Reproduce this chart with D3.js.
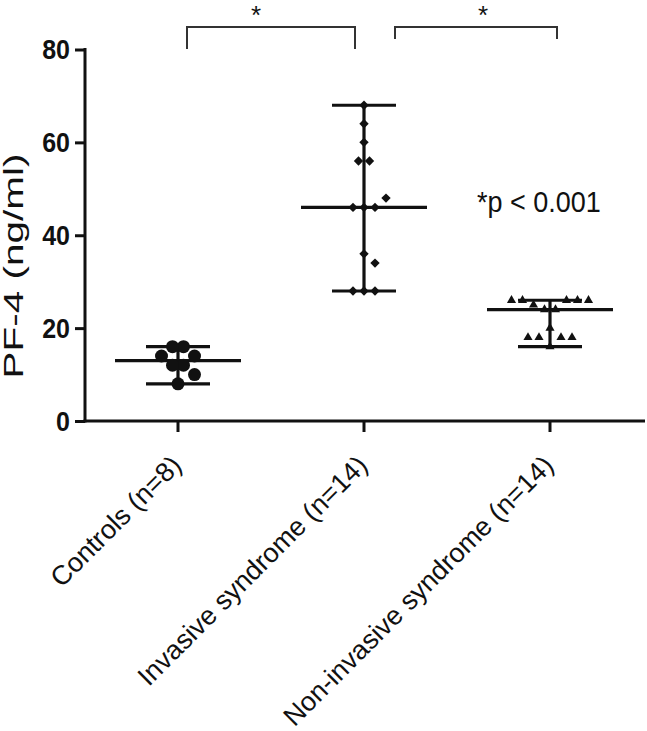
<!DOCTYPE html>
<html>
<head>
<meta charset="utf-8">
<script src="https://cdn.jsdelivr.net/npm/d3@7"></script>
<style>
  html, body { margin: 0; padding: 0; background: #fff; }
  svg { display: block; }
  text { font-family: "Liberation Sans", Arial, Helvetica, sans-serif; fill: #111; }
</style>
</head>
<body>
<svg id="chart" width="647" height="731"></svg>
<script>
// ---------------- data ----------------
const categories = ["Controls (n=8)", "Invasive syndrome (n=14)", "Non-invasive syndrome (n=14)"];
const controls = [16, 16, 14, 14, 12, 12, 10, 8];
const invasive = [68, 64, 60, 56, 56, 48, 46, 46, 46, 36, 34, 28, 28, 28];
const nonInvasive = [26, 26, 26, 26, 26, 25, 24, 24, 20, 18, 18, 18, 18, 16];
const yTicks = [0, 20, 40, 60, 80];
const yTitle = "PF-4 (ng/ml)";
const comparisons = [[0, 1], [1, 2]];
const comparisonLabels = ["*", "*"];
const noteText = "*p < 0.001";

const series = [controls, invasive, nonInvasive];
const shapes = ["circle", "diamond", "triangle"];

// ---------------- layout ----------------
const svg = d3.select("#chart");
const axisY0 = 421, axisY80 = 49.5;
const plotLeft = 85, plotRight = 643, axisEnd = 645;
const ink = "#111";

const x = d3.scaleBand().domain(categories).range([plotLeft, plotRight]).paddingInner(0).paddingOuter(0);
const cx = c => x(c) + x.bandwidth() / 2;
const y = d3.scaleLinear().domain([0, 80]).range([axisY0, axisY80]);

// ---------------- beeswarm-like horizontal spread ----------------
const gap = 11, dxT = 10.5, dyT = 9.5, mergeT = 5;
function place(order) {
  const placed = [];
  order.forEach(g => {
    const n = g.vals.length;
    const cands = [];
    const hMax = n === 1 ? 1 : 12;
    for (let hi = 0; hi < hMax; hi++) for (let si = -12; si <= 12; si++) {
      const s = si * gap / 2;
      let offs = [];
      if (n === 1) offs = [0];
      else if (n % 2 === 0) { const h = gap / 2 + hi * gap / 2; for (let j = 0; j < n / 2; j++) offs.push(h + j * gap, -(h + j * gap)); }
      else { const h = gap + hi * gap / 2; offs.push(0); for (let j = 0; j < (n - 1) / 2; j++) offs.push(h + j * gap, -(h + j * gap)); }
      offs = offs.map(o => o + s);
      cands.push({ offs, cost: d3.max(offs, o => Math.abs(o)), hi, s });
    }
    cands.sort((a, b) => a.cost - b.cost || Math.abs(a.s) - Math.abs(b.s) || a.hi - b.hi || b.s - a.s);
    for (const c of cands) {
      const slots = c.offs.slice().sort((a, b) => Math.abs(b) - Math.abs(a) || b - a);
      const pts = g.vals.map((v, i) => ({ v, dx: slots[i] }));
      const ok = pts.every(p => placed.every(q => !(Math.abs(y(p.v) - y(q.v)) < dyT && Math.abs(p.dx - q.dx) < dxT)));
      if (ok) { placed.push(...pts); return; }
    }
    placed.push(...g.vals.map(v => ({ v, dx: 0 })));
  });
  return placed;
}
function swarm(values) {
  const sorted = values.slice().sort((a, b) => b - a);
  const groups = [];
  sorted.forEach(v => {
    const g = groups[groups.length - 1];
    if (g && Math.abs(y(g.vals[g.vals.length - 1]) - y(v)) < mergeT) g.vals.push(v);
    else groups.push({ vals: [v] });
  });
  const blocks = [];
  groups.forEach(g => {
    const b = blocks[blocks.length - 1];
    if (b) {
      const last = b[b.length - 1];
      if (Math.abs(y(last.vals[last.vals.length - 1]) - y(g.vals[0])) < dyT) { b.push(g); return; }
    }
    blocks.push([g]);
  });
  const out = [];
  blocks.forEach(b => {
    const orders = [b.slice(), b.slice().sort((p, q) => q.vals.length - p.vals.length || q.vals[0] - p.vals[0])];
    let best = null;
    orders.forEach(ord => {
      const res = place(ord);
      const cost = d3.sum(res, r => Math.abs(r.dx));
      if (!best || cost < best.cost - 1e-9) best = { res, cost };
    });
    out.push(...best.res);
  });
  return out;
}

// ---------------- axes ----------------
const yAxis = d3.axisLeft(y).tickValues(yTicks).tickSize(10).tickSizeOuter(0).tickPadding(5);
const gy = svg.append("g").attr("transform", `translate(${plotLeft},0)`).call(yAxis);
gy.select(".domain").remove();
gy.selectAll(".tick line").attr("stroke", ink).attr("stroke-width", 3);
gy.selectAll(".tick text")
  .attr("font-size", 25).attr("font-weight", "bold").attr("fill", ink)
  .attr("font-family", "'Liberation Sans', Arial, Helvetica, sans-serif")
  .attr("dy", null).attr("y", 0).attr("dominant-baseline", "central")
  .attr("transform", "scale(1,1.08)");
svg.append("line").attr("x1", plotLeft).attr("x2", plotLeft).attr("y1", y(80) - 1.5).attr("y2", axisY0 + 1.5)
  .attr("stroke", ink).attr("stroke-width", 3);

const xAxis = d3.axisBottom(x).tickSize(11).tickSizeOuter(0).tickFormat("");
const gx = svg.append("g").attr("transform", `translate(0,${axisY0})`).call(xAxis);
gx.select(".domain").remove();
gx.selectAll(".tick line").attr("stroke", ink).attr("stroke-width", 3);
svg.append("line").attr("x1", plotLeft - 1.5).attr("x2", axisEnd).attr("y1", axisY0).attr("y2", axisY0)
  .attr("stroke", ink).attr("stroke-width", 3);

// category labels
categories.forEach(c => {
  svg.append("text")
    .attr("transform", `translate(${cx(c) + 5},467) rotate(-45)`)
    .attr("text-anchor", "end")
    .attr("font-size", 27)
    .text(c);
});

// y title
svg.append("text")
  .attr("transform", `translate(23,266) scale(1,1.5) rotate(-90)`)
  .attr("text-anchor", "middle")
  .attr("font-size", 27)
  .text(yTitle);

// ---------------- range bars + medians ----------------
const medHalf = 63, capHalf = 32;
series.forEach((vals, i) => {
  const c = cx(categories[i]);
  const [lo, hi] = d3.extent(vals);
  const med = d3.median(vals);
  const g = svg.append("g").attr("stroke", ink).attr("stroke-width", 3.2).attr("fill", "none");
  g.append("line").attr("x1", c).attr("x2", c).attr("y1", y(hi)).attr("y2", y(lo));
  g.append("line").attr("x1", c - capHalf).attr("x2", c + capHalf).attr("y1", y(hi)).attr("y2", y(hi));
  g.append("line").attr("x1", c - capHalf).attr("x2", c + capHalf).attr("y1", y(lo)).attr("y2", y(lo));
  g.append("line").attr("x1", c - medHalf).attr("x2", c + medHalf).attr("y1", y(med)).attr("y2", y(med));
});

// ---------------- points ----------------
const symFor = {
  circle: d3.symbol().type(d3.symbolCircle).size(Math.PI * 6.5 * 6.5),
  diamond: d3.symbol().type(d3.symbolSquare).size(44),
  triangle: d3.symbol().type(d3.symbolTriangle).size(36)
};
series.forEach((vals, i) => {
  const c = cx(categories[i]);
  const pts = swarm(vals);
  const shape = shapes[i];
  svg.append("g").selectAll("path").data(pts).join("path")
    .attr("d", symFor[shape]())
    .attr("fill", ink)
    .attr("transform", d => `translate(${c + d.dx},${y(d.v)})` + (shape === "diamond" ? " rotate(45)" : ""));
});

// ---------------- significance brackets ----------------
const bracketGeom = [
  { dl: 9, dr: -9, top: 27, legL: 49, legR: 49, starX: 256 },
  { dl: 31, dr: 7, top: 27, legL: 39, legR: 39, starX: 483 }
];
comparisons.forEach(([a, b], i) => {
  const gm = bracketGeom[i];
  const x1 = cx(categories[a]) + gm.dl, x2 = cx(categories[b]) + gm.dr;
  svg.append("path")
    .attr("d", `M${x1},${gm.legL}V${gm.top}H${x2}V${gm.legR}`)
    .attr("fill", "none").attr("stroke", "#333").attr("stroke-width", 2);
  svg.append("text")
    .attr("x", gm.starX).attr("y", 24)
    .attr("text-anchor", "middle").attr("font-size", 26)
    .text(comparisonLabels[i]);
});

// note
svg.append("text")
  .attr("transform", `translate(477,212) scale(1,1.08)`)
  .attr("font-size", 27)
  .text(noteText);
</script>
</body>
</html>
